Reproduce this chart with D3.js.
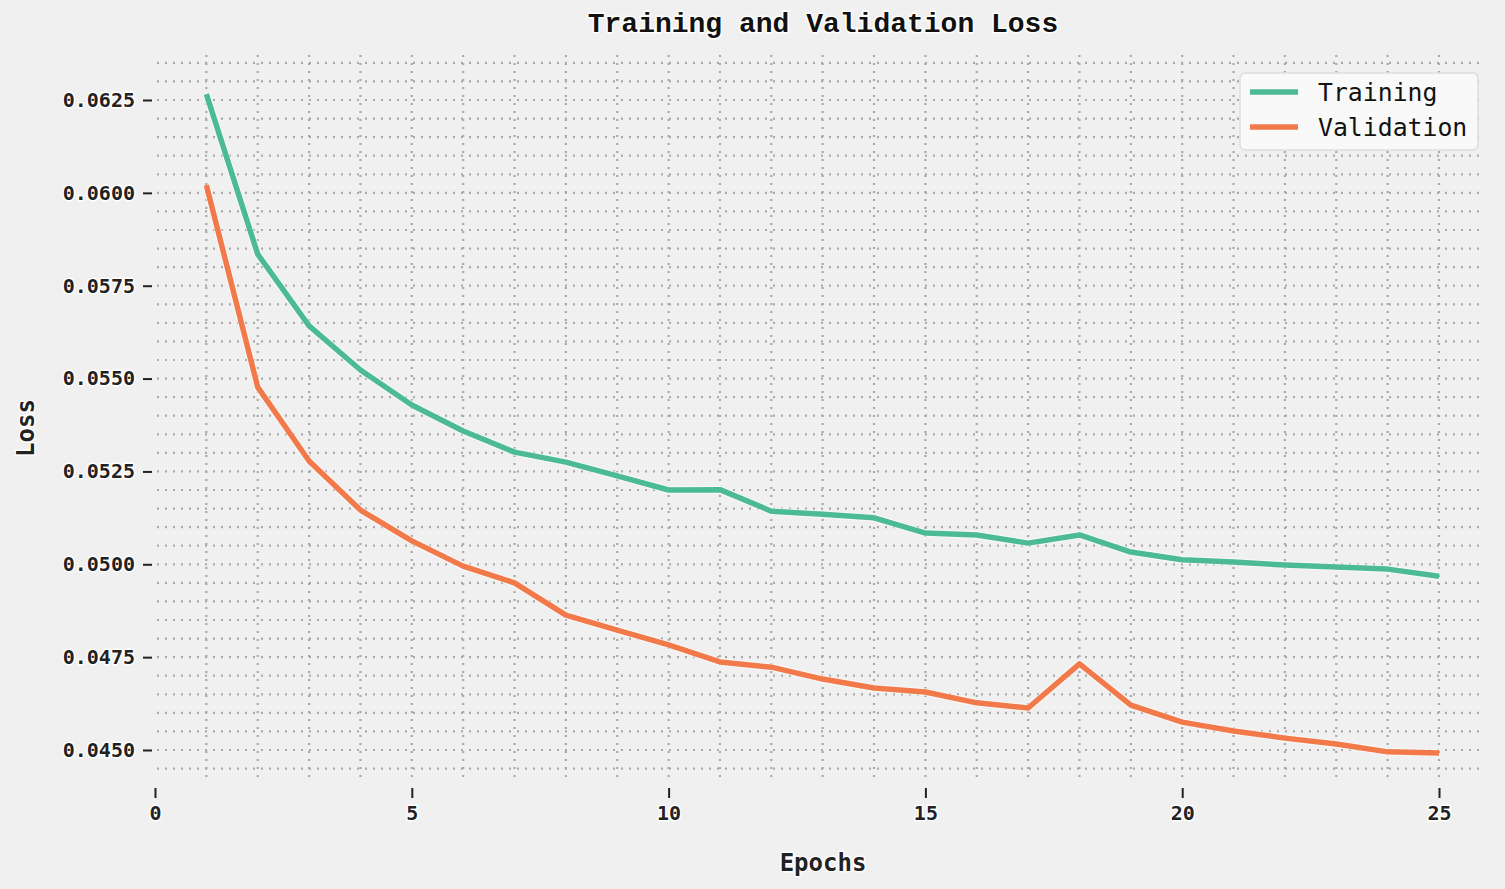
<!DOCTYPE html>
<html>
<head>
<meta charset="utf-8">
<script src="https://cdn.jsdelivr.net/npm/d3@7"></script>
<style>
  html, body { margin: 0; padding: 0; background: #f0f0f0; }
  svg { display: block; }
  .halo { paint-order: stroke; stroke: #ffffff; stroke-width: 3px; stroke-linejoin: round; }
</style>
</head>
<body>
<svg id="chart" width="1505" height="889"></svg>
<script>
// ---- data ----
const epochs = [1,2,3,4,5,6,7,8,9,10,11,12,13,14,15,16,17,18,19,20,21,22,23,24,25];
const trainingLoss = [0.06266,0.05835,0.05642,0.05523,0.05429,0.05359,0.05302,0.05275,0.05238,0.05200,
  0.05201,0.05143,0.05135,0.05125,0.05084,0.05079,0.05057,0.05079,0.05033,0.05012,
  0.05006,0.04998,0.04993,0.04987,0.04968];
const validationLoss = [0.06021,0.05477,0.05278,0.05146,0.05063,0.04995,0.04950,0.04863,0.04823,0.04783,
  0.04737,0.04723,0.04691,0.04667,0.04656,0.04627,0.04613,0.04732,0.04621,0.04575,
  0.04551,0.04532,0.04516,0.04495,0.04492];
const xTicks = [0,5,10,15,20,25];
const yTicks = [0.0450,0.0475,0.0500,0.0525,0.0550,0.0575,0.0600,0.0625];
const seriesNames = ["Training","Validation"];
const seriesColors = ["#4cbb94","#f27a4a"];

// ---- layout ----
const svg = d3.select("#chart");
const W = 1505, H = 889;
svg.append("rect").attr("width", W).attr("height", H).attr("fill", "#f0f0f0");

const x = d3.scaleLinear().domain([0, 25]).range([155, 1439]);
const y = d3.scaleLinear().domain([0.0450, 0.0625]).range([750, 100]);

const plotLeft = 157, plotRight = 1485, plotTop = 55, plotBottom = 778;
const monoFont = "'DejaVu Sans Mono', 'Liberation Mono', monospace";

// ---- grid ----
const gridG = svg.append("g");
const hGrid = d3.range(0.0445, 0.06351, 0.0005);
gridG.selectAll("line.h").data(hGrid).enter().append("line")
  .attr("x1", plotLeft).attr("x2", plotRight)
  .attr("y1", d => y(d)).attr("y2", d => y(d))
  .attr("stroke", "#a9a9a9").attr("stroke-width", 2.2)
  .attr("stroke-dasharray", "2,6");
gridG.selectAll("line.v").data(epochs).enter().append("line")
  .attr("x1", d => x(d)).attr("x2", d => x(d))
  .attr("y1", plotTop).attr("y2", plotBottom)
  .attr("stroke", "#a9a9a9").attr("stroke-width", 2.2)
  .attr("stroke-dasharray", "2,6");

// ---- axes ----
const xAxis = d3.axisBottom(x).tickValues(xTicks).tickFormat(d3.format("d")).tickSize(10).tickPadding(8);
const xg = svg.append("g").attr("transform", "translate(0,788)").call(xAxis);
xg.select(".domain").remove();
xg.selectAll(".tick line").attr("stroke", "#222").attr("stroke-width", 2);
xg.selectAll(".tick text").attr("class", "halo")
  .attr("fill", "#222").style("font-family", monoFont).style("font-size", "20px").style("font-weight", "bold");

const yAxis = d3.axisLeft(y).tickValues(yTicks).tickFormat(d3.format(".4f")).tickSize(9).tickPadding(8);
const yg = svg.append("g").attr("transform", "translate(152,0)").call(yAxis);
yg.select(".domain").remove();
yg.selectAll(".tick line").attr("stroke", "#222").attr("stroke-width", 2);
yg.selectAll(".tick text").attr("class", "halo")
  .attr("fill", "#222").style("font-family", monoFont).style("font-size", "20px").style("font-weight", "bold");

// ---- lines ----
const line = d3.line().x((d, i) => x(epochs[i])).y(d => y(d));
[trainingLoss, validationLoss].forEach((s, k) => {
  svg.append("path").datum(s).attr("d", line)
    .attr("fill", "none").attr("stroke", "#ffffff").attr("stroke-opacity", 0.6)
    .attr("stroke-width", 7.5).attr("stroke-linejoin", "round");
  svg.append("path").datum(s).attr("d", line)
    .attr("fill", "none").attr("stroke", seriesColors[k])
    .attr("stroke-width", 5.5).attr("stroke-linejoin", "round");
});

// ---- title & labels ----
svg.append("text").attr("class", "halo")
  .attr("x", 823).attr("y", 32).attr("text-anchor", "middle")
  .style("font-family", "'Courier New', 'Nimbus Mono PS', 'Liberation Mono', monospace")
  .style("font-size", "28px").style("font-weight", "bold").attr("fill", "#111")
  .text("Training and Validation Loss");

svg.append("text").attr("class", "halo")
  .attr("x", 823).attr("y", 871).attr("text-anchor", "middle")
  .style("font-family", monoFont).style("font-size", "24px").style("font-weight", "bold").attr("fill", "#222")
  .text("Epochs");

svg.append("text").attr("class", "halo")
  .attr("transform", "translate(34,428) rotate(-90)").attr("text-anchor", "middle")
  .style("font-family", monoFont).style("font-size", "24px").style("font-weight", "bold").attr("fill", "#222")
  .text("Loss");

// ---- legend ----
const lg = svg.append("g");
lg.append("rect").attr("x", 1240).attr("y", 73).attr("width", 238).attr("height", 77)
  .attr("rx", 5).attr("fill", "#f9f9f9").attr("stroke", "#dddddd").attr("stroke-width", 1.5);
seriesNames.forEach((name, i) => {
  const yy = 92 + i * 35;
  lg.append("line").attr("x1", 1250).attr("x2", 1298).attr("y1", yy).attr("y2", yy)
    .attr("stroke", seriesColors[i]).attr("stroke-width", 5.5);
  lg.append("text").attr("x", 1318).attr("y", yy + 9)
    .style("font-family", monoFont).style("font-size", "24.8px").attr("fill", "#111")
    .text(name);
});
</script>
</body>
</html>
